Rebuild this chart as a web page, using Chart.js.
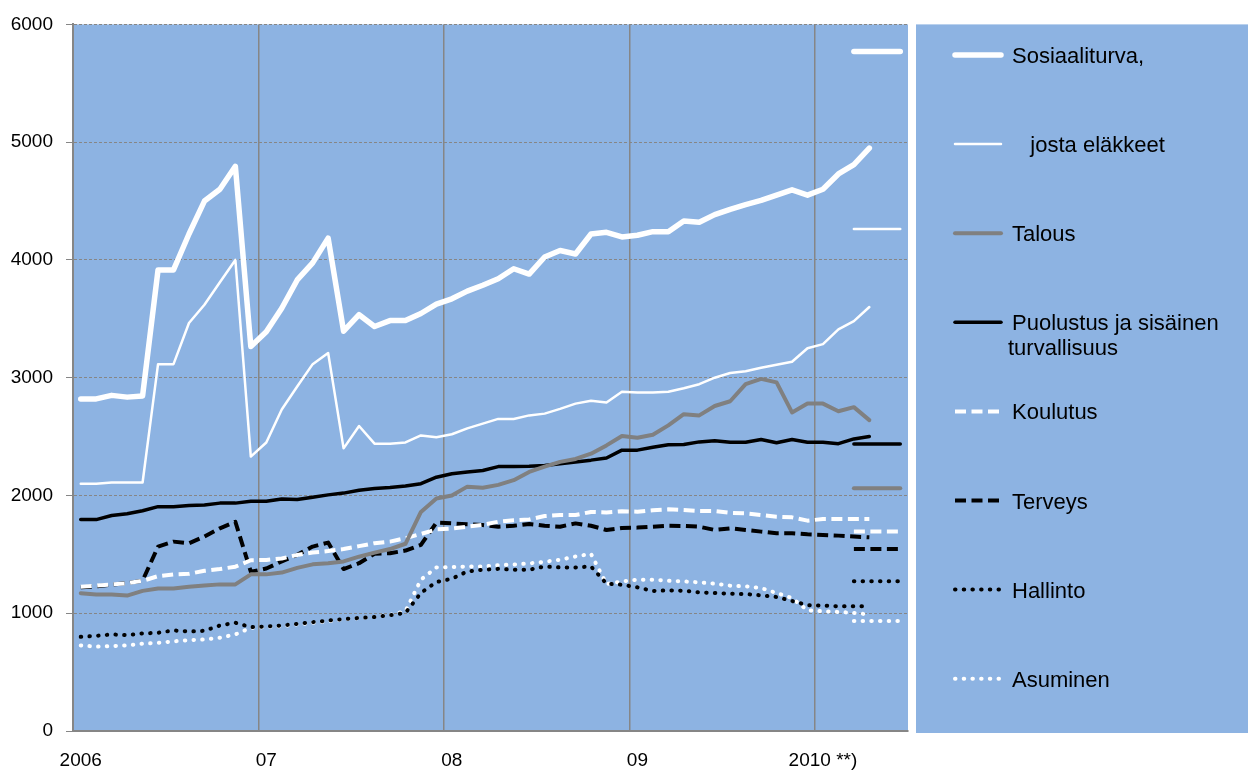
<!DOCTYPE html>
<html>
<head>
<meta charset="utf-8">
<script src="https://cdn.jsdelivr.net/npm/chart.js@4.4.1/dist/chart.umd.min.js"></script>
<style>
  body { margin: 0; background: #fff; }
</style>
</head>
<body>
<canvas id="myChart" width="1248" height="771"></canvas>
<script>
// kuukaudet 2006/1 - 2010/6
const months = [
    '2006/1','2006/2','2006/3','2006/4','2006/5','2006/6','2006/7','2006/8','2006/9','2006/10','2006/11','2006/12',
    '2007/1','2007/2','2007/3','2007/4','2007/5','2007/6','2007/7','2007/8','2007/9','2007/10','2007/11','2007/12',
    '2008/1','2008/2','2008/3','2008/4','2008/5','2008/6','2008/7','2008/8','2008/9','2008/10','2008/11','2008/12',
    '2009/1','2009/2','2009/3','2009/4','2009/5','2009/6','2009/7','2009/8','2009/9','2009/10','2009/11','2009/12',
    '2010/1','2010/2','2010/3','2010/4','2010/5','2010/6'
];
const yearLabels = ['2006', '07', '08', '09', '2010 **)'];

const seriesNames = [
    'Sosiaaliturva,',
    '   josta eläkkeet',
    'Talous',
    'Puolustus ja sisäinen\nturvallisuus',
    'Koulutus',
    'Terveys',
    'Hallinto',
    'Asuminen'
];

const sosiaaliturva = [2820, 2820, 2850, 2835, 2845, 3915, 3915, 4220, 4500, 4600, 4795, 3265,
    3390, 3590, 3830, 3975, 4185, 3395, 3535, 3435, 3485, 3485, 3545, 3625,
    3670, 3735, 3785, 3840, 3925, 3880, 4025, 4080, 4050, 4220, 4235, 4195,
    4210, 4240, 4240, 4330, 4320, 4385, 4430, 4470, 4505, 4550, 4595, 4550,
    4600, 4730, 4810, 4950];
const elakkeet = [2100, 2100, 2110, 2110, 2110, 3115, 3115, 3465, 3620, 3810, 4000, 2330,
    2450, 2730, 2925, 3115, 3210, 2400, 2590, 2440, 2440, 2450, 2510, 2495,
    2520, 2570, 2610, 2650, 2650, 2680, 2695, 2735, 2780, 2805, 2790, 2880,
    2875, 2875, 2880, 2910, 2945, 3000, 3040, 3055, 3085, 3110, 3135, 3250,
    3285, 3410, 3480, 3600];
const talous = [1170, 1160, 1160, 1150, 1190, 1210, 1210, 1225, 1235, 1245, 1245, 1330,
    1330, 1345, 1385, 1415, 1425, 1440, 1480, 1515, 1545, 1590, 1860, 1975,
    2000, 2075, 2065, 2090, 2130, 2200, 2245, 2285, 2310, 2355, 2425, 2505,
    2490, 2515, 2595, 2690, 2680, 2760, 2800, 2945, 2990, 2960, 2705, 2780,
    2780, 2715, 2750, 2640];
const puolustus = [1795, 1795, 1830, 1845, 1870, 1905, 1905, 1915, 1920, 1935, 1935, 1950,
    1950, 1970, 1965, 1985, 2005, 2020, 2045, 2060, 2068, 2080, 2100, 2155,
    2185, 2200, 2212, 2245, 2245, 2248, 2255, 2270, 2285, 2300, 2318, 2385,
    2385, 2410, 2430, 2432, 2455, 2465, 2452, 2452, 2475, 2448, 2475, 2452,
    2452, 2440, 2480, 2500];
const koulutus = [1225, 1235, 1245, 1255, 1275, 1315, 1330, 1335, 1360, 1375, 1395, 1450,
    1452, 1465, 1495, 1515, 1528, 1545, 1570, 1595, 1608, 1637, 1673, 1712,
    1720, 1735, 1750, 1777, 1790, 1797, 1825, 1834, 1834, 1860, 1856, 1866,
    1862, 1875, 1882, 1876, 1868, 1868, 1853, 1848, 1834, 1820, 1814, 1786,
    1800, 1800, 1800, 1800];
const terveys = [1220, 1228, 1242, 1256, 1276, 1566, 1608, 1594, 1651, 1721, 1777, 1352,
    1380, 1440, 1496, 1566, 1600, 1375, 1425, 1505, 1510, 1532, 1580, 1769,
    1763, 1755, 1749, 1735, 1743, 1758, 1743, 1735, 1763, 1743, 1707, 1724,
    1727, 1735, 1743, 1741, 1735, 1707, 1721, 1707, 1693, 1679, 1679, 1670,
    1665, 1659, 1651, 1645];
const hallinto = [800, 808, 820, 814, 828, 834, 854, 845, 851, 896, 919, 882,
    888, 896, 910, 924, 938, 950, 960, 968, 983, 1003, 1172, 1265,
    1293, 1355, 1369, 1377, 1369, 1369, 1397, 1389, 1389, 1397, 1251, 1242,
    1220, 1189, 1194, 1191, 1177, 1172, 1166, 1163, 1152, 1138, 1104, 1068,
    1065, 1059, 1059, 1059];
const asuminen = [727, 716, 721, 727, 741, 749, 761, 772, 777, 792, 820, 876,
    884, 890, 905, 918, 932, 948, 958, 969, 986, 1017, 1285, 1389,
    1392, 1397, 1397, 1408, 1414, 1423, 1437, 1454, 1482, 1504, 1248, 1270,
    1285, 1285, 1276, 1270, 1262, 1251, 1234, 1228, 1214, 1172, 1129, 1025,
    1017, 1011, 1003, 989];

// 2010 tasot (vaakaviivat oikealla), samassa järjestyksessä kuin seriesNames
const taso2010 = [5770, 4262, 2062, 2437, 1695, 1545, 1272, 935];
const tasoAlku = 50; // 2010/3 ... 2010/6

const plotBlue = '#8db3e2';
const gridGray = '#868686';

const styles = [
    { color: '#ffffff', width: 5.5, dash: [], cap: 'round' },
    { color: '#ffffff', width: 2.5, dash: [], cap: 'round' },
    { color: '#808080', width: 4, dash: [], cap: 'round' },
    { color: '#000000', width: 3.5, dash: [], cap: 'round' },
    { color: '#ffffff', width: 4, dash: [11, 5.5], cap: 'butt' },
    { color: '#000000', width: 4, dash: [11, 5.5], cap: 'butt' },
    { color: '#000000', width: 4, dash: [0.5, 8.2], cap: 'round' },
    { color: '#ffffff', width: 4, dash: [0.5, 8.2], cap: 'round' }
];

const monthly = [sosiaaliturva, elakkeet, talous, puolustus, koulutus, terveys, hallinto, asuminen];

function lineDataset(label, data, st) {
    return {
        label: label,
        data: data,
        borderColor: st.color,
        borderWidth: st.width,
        borderDash: st.dash,
        borderCapStyle: st.cap,
        borderJoinStyle: 'round',
        pointRadius: 0,
        pointHoverRadius: 0,
        tension: 0,
        fill: false,
        spanGaps: false
    };
}

const datasets = [];
monthly.forEach((data, i) => {
    datasets.push(lineDataset(seriesNames[i], data, styles[i]));
});
taso2010.forEach((v, i) => {
    const data = months.map((m, j) => (j >= tasoAlku ? v : null));
    datasets.push(lineDataset(seriesNames[i] + ' 2010', data, styles[i]));
});

const backgroundAndLegend = {
    id: 'backgroundAndLegend',
    beforeDraw(chart) {
        const { ctx, chartArea: a } = chart;
        ctx.save();
        ctx.fillStyle = plotBlue;
        ctx.fillRect(a.left, a.top, a.right - a.left, a.bottom - a.top);
        ctx.fillRect(916, a.top, chart.width - 916, a.bottom - a.top + 2);
        ctx.restore();
    },
    afterDraw(chart) {
        const ctx = chart.ctx;
        ctx.save();
        ctx.font = '22px "Liberation Sans", Arial, sans-serif';
        ctx.textBaseline = 'middle';
        seriesNames.forEach((name, i) => {
            const ds = chart.data.datasets[i];
            const y = 55 + i * 89.1;
            ctx.strokeStyle = ds.borderColor;
            ctx.lineWidth = ds.borderWidth;
            ctx.lineCap = ds.borderCapStyle;
            ctx.setLineDash(ds.borderDash);
            ctx.beginPath();
            ctx.moveTo(955, y);
            ctx.lineTo(1001, y);
            ctx.stroke();
            ctx.fillStyle = '#000';
            name.split('\n').forEach((line, k) => {
                ctx.fillText(line, k === 0 ? 1012 : 1008, y + 2 + k * 25);
            });
        });
        ctx.restore();
    }
};

Chart.defaults.font.family = '"Liberation Sans", Arial, sans-serif';
Chart.defaults.color = '#000';

const ctx = document.getElementById('myChart');
const myChart = new Chart(ctx, {
    type: 'line',
    data: {
        labels: months,
        datasets: datasets
    },
    options: {
        responsive: false,
        animation: false,
        devicePixelRatio: 1,
        layout: {
            padding: { left: 0, right: 340, top: 22, bottom: 0 }
        },
        plugins: {
            legend: { display: false },
            tooltip: { enabled: false }
        },
        scales: {
            x: {
                offset: true,
                afterFit: function(scale) { scale.height = 40; },
                grid: {
                    offset: true,
                    drawTicks: false,
                    lineWidth: 1.5,
                    color: function(c) {
                        return c.index % 12 === 0 ? gridGray : 'transparent';
                    }
                },
                border: { color: gridGray, width: 2 },
                ticks: {
                    autoSkip: false,
                    maxRotation: 0,
                    minRotation: 0,
                    padding: 18,
                    font: { size: 19 },
                    callback: function(value, index) {
                        return index % 12 === 0 ? yearLabels[index / 12] : '';
                    }
                }
            },
            y: {
                min: 0,
                max: 6000,
                afterFit: function(scale) { scale.width = 73; },
                grid: {
                    color: gridGray,
                    lineWidth: 1,
                    tickLength: 7,
                    tickColor: gridGray,
                    tickBorderDash: []
                },
                border: { color: gridGray, width: 2, dash: [3, 2] },
                ticks: {
                    stepSize: 1000,
                    padding: 13,
                    font: { size: 19 },
                    callback: function(value) { return String(value); }
                }
            }
        }
    },
    plugins: [backgroundAndLegend]
});
</script>
</body>
</html>
